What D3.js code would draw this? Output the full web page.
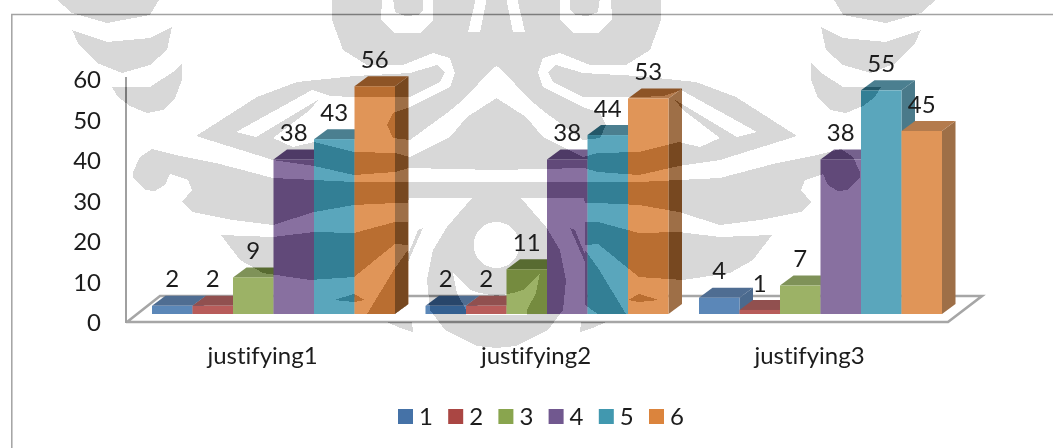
<!DOCTYPE html>
<html>
<head>
<meta charset="utf-8">
<script src="https://cdnjs.cloudflare.com/ajax/libs/d3/7.8.5/d3.min.js"></script>
<style>
  html, body { margin: 0; padding: 0; background: #fff; }
  svg { display: block; }
  text { font-family: Lato, Carlito, Calibri, sans-serif; fill: #1c1c1c; font-variant-ligatures: none; }
</style>
</head>
<body>
<svg id="chart" width="1053" height="448"></svg>
<script>
// Chart values
const categories = ["justifying1", "justifying2", "justifying3"];
const seriesNames = ["1", "2", "3", "4", "5", "6"];
const series1 = [2, 2, 4];
const series2 = [2, 2, 1];
const series3 = [9, 11, 7];
const series4 = [38, 38, 38];
const series5 = [43, 44, 55];
const series6 = [56, 53, 45];
const allSeries = [series1, series2, series3, series4, series5, series6];
const yTicks = [0, 10, 20, 30, 40, 50, 60];

// Colours per series: legend swatch, bar front, bar top, bar side
const swatchColors = ["#4572a7", "#aa4643", "#89a54e", "#71588f", "#4198af", "#db843d"];
const frontColors = ["#5b87b8", "#b85c5a", "#9cb266", "#8870a0", "#5aa6bc", "#e09558"];
const topColors = ["#4f6d92", "#91504f", "#7f9258", "#75618d", "#4b7f90", "#b47b4d"];
const sideColors = ["#4b6a8e", "#8a4b4a", "#748650", "#6a5782", "#4a7a8a", "#9e6f47"];

const FONT = 24;
const DEPTH_X = 13.5, DEPTH_Y = 10;

const svg = d3.select("#chart");
svg.append("rect").attr("width", 1053).attr("height", 448).attr("fill", "#fff");

// Outer chart frame, open at the right and bottom
svg.append("path").attr("d", "M11.8,448V14.5H1053").attr("fill", "none")
  .attr("stroke", "#a3a3a3").attr("stroke-width", 1.5);

// Scales
const x0 = d3.scaleBand().domain(categories).range([152, 942]).paddingInner(0.1115).paddingOuter(0);
const x1 = d3.scaleBand().domain(seriesNames).range([0, x0.bandwidth()]);
const yBar = d3.scaleLinear().domain([0, 60]).range([314, 70]);
const yWall = d3.scaleLinear().domain([0, 60]).range([322, 79]);

// Floor and wall of the 3D plot
const floor = svg.append("g").attr("fill", "none").attr("stroke", "#a6a6a6");
floor.append("path").attr("stroke-width", 2.6)
  .attr("d", "M126,322H948L982,296H160L127,322");
floor.append("line").attr("x1", 126).attr("x2", 126).attr("y1", 77).attr("y2", 323)
  .attr("stroke", "#a0a0a0").attr("stroke-width", 2);

// Bars: front face, top and right side, drawn left to right so neighbours overlap correctly
const bars = [];
categories.forEach((c, ci) => seriesNames.forEach((s, si) => {
  bars.push({ category: c, series: si, name: s, value: allSeries[si][ci] });
}));
const barG = svg.append("g").selectAll("g").data(bars).join("g");
const barX = d => x0(d.category) + x1(d.name);
const bw = x1.bandwidth();
const poly = pts => "M" + pts.map(p => p.join(",")).join("L") + "Z";
barG.append("path").attr("fill", d => sideColors[d.series]).attr("d", d => {
  const r = barX(d) + bw, t = yBar(d.value), b = yBar(0);
  return poly([[r, t], [r + DEPTH_X, t - DEPTH_Y], [r + DEPTH_X, b - DEPTH_Y], [r, b]]);
});
barG.append("path").attr("fill", d => topColors[d.series]).attr("d", d => {
  const l = barX(d), t = yBar(d.value);
  return poly([[l, t], [l + DEPTH_X, t - DEPTH_Y], [l + bw + DEPTH_X, t - DEPTH_Y], [l + bw, t]]);
});
barG.append("rect").attr("fill", d => frontColors[d.series])
  .attr("x", barX).attr("width", bw)
  .attr("y", d => yBar(d.value)).attr("height", d => yBar(0) - yBar(d.value));

// Background emblem, printed over the plot. The left half is traced and mirrored about the
// centre line. "Difference" with a dark grey subtracts a fixed amount from every colour;
// black shapes inside the group leave the page untouched and so act as cut-outs.
const crestAxis = 496.5;
const crestShapes = [
  [[55,-2],[160,-2],[150,15],[107,23],[72,13]],
  [[72,30],[107,42],[150,38],[172,27],[167,50],[150,65],[122,73],[97,63],[78,43]],
  [[112,87],[127,87],[150,87],[173,72],[182,63],[182,80],[175,98],[163,110],[147,113],[130,106],[118,97]],
  // head and tongue above the chevron
  [[332,-2],[332,20],[343,50],[367,65],[403,65],[433,53],[450,58],[455,73],[450,87],[410,107],[393,113],[387,125],[393,138],[410,140],[447,113],[463,100],[493,68],[496.5,66],[496.5,-2]],
  // wing with its feathers
  [[196,136],[257,97],[297,82],[355,76],[410,73],[437,65],[445,72],[440,82],[410,97],[354,97],[330,96],[312,90],[236,132],[256,137],[318,100],[310,110],[273,138],[293,147],[314,142],[354,152],[395,153],[410,157],[450,137],[467,117],[496.5,98],[496.5,170],[409,168],[395,172],[354,175],[314,166],[273,160]],
  // swirl and middle band
  [[133,172],[140,157],[152,149],[180,156],[216,163],[273,178],[314,180],[354,182],[496.5,182],[496.5,198],[409,198],[408,203],[395,203],[354,205],[314,212],[273,225],[233,220],[192,212],[182,202],[192,190],[188,180],[170,174],[165,185],[155,191],[145,190],[133,177]],
  // lower wedge
  [[221,235],[273,237],[314,232],[354,233],[395,222],[408,222],[408,245],[395,244],[354,277],[310,280],[263,273],[240,260]],
  [[367,314],[395,268],[408,250],[408,305],[395,314]],
  [[334,300],[354,294],[365,300],[354,302]],
  // thin arc and the base fragment under the floor
  [[423,228],[418,230],[405,262],[408,262]],
  [[387,322],[412,322],[413,332],[400,328]],
  // central round body
  [[472,198],[447,227],[433,250],[427,280],[430,310],[445,330],[477,346],[496.5,348],[496.5,182],[472,182]]
];
const crestCuts = [
  [[382,-2],[381,20],[395,33],[420,33],[433,20],[433,-2],[423,-2],[423,10],[418,15],[405,16],[395,12],[393,-2]],
  [[468,32],[480,32],[487,-2],[476,-2]],
  [[453,273],[457,293],[466,310],[466,315],[496.5,315],[496.5,296],[480,293],[470,290],[460,280]]
];
const crestPath = d3.line().curve(d3.curveLinearClosed);
const crest = svg.append("g").style("mix-blend-mode", "difference").attr("shape-rendering", "crispEdges");
const sides = ["", `translate(${2 * crestAxis},0) scale(-1,1)`];
const drawCrest = (shapes, fill) => sides.forEach(tr => {
  crest.append("g").attr("transform", tr).attr("fill", fill)
    .selectAll("path").data(shapes).join("path").attr("d", crestPath);
});
drawCrest(crestShapes, "#272727");
drawCrest(crestCuts, "#000");
crest.append("circle").attr("cx", crestAxis).attr("cy", 245).attr("r", 23).attr("fill", "#000");

// Value labels above each bar
svg.append("g").selectAll("text").data(bars).join("text")
  .attr("text-anchor", "middle").attr("font-size", FONT).attr("dy", "0.35em")
  .attr("x", d => barX(d) + bw / 2)
  .attr("y", d => yBar(d.value) - DEPTH_Y - 16.8)
  .text(d => d.value);

// Value axis
const yAxis = svg.append("g").attr("transform", "translate(106,0)")
  .call(d3.axisLeft(yWall).tickValues(yTicks).tickSize(0).tickPadding(5));
yAxis.select(".domain").remove();
yAxis.selectAll("text").attr("font-size", FONT).attr("dy", "0.36em");

// Category axis, labels sit left of the group centre as the plot is skewed
const xAxis = svg.append("g").attr("transform", "translate(-11,347)")
  .call(d3.axisBottom(x0).tickSize(0).tickPadding(0));
xAxis.select(".domain").remove();
xAxis.selectAll("text").attr("font-size", FONT).attr("dy", "0.35em").attr("y", 8.5);

// Legend
const legendX = d3.scalePoint().domain(seriesNames).range([398, 649]);
const legend = svg.append("g").selectAll("g").data(seriesNames).join("g")
  .attr("transform", d => `translate(${legendX(d)},409)`);
legend.append("rect").attr("width", 15).attr("height", 15).attr("fill", (d, i) => swatchColors[i]);
legend.append("text").attr("x", 21).attr("y", 7.5).attr("dy", "0.35em").attr("font-size", FONT).text(d => d);
</script>
</body>
</html>
